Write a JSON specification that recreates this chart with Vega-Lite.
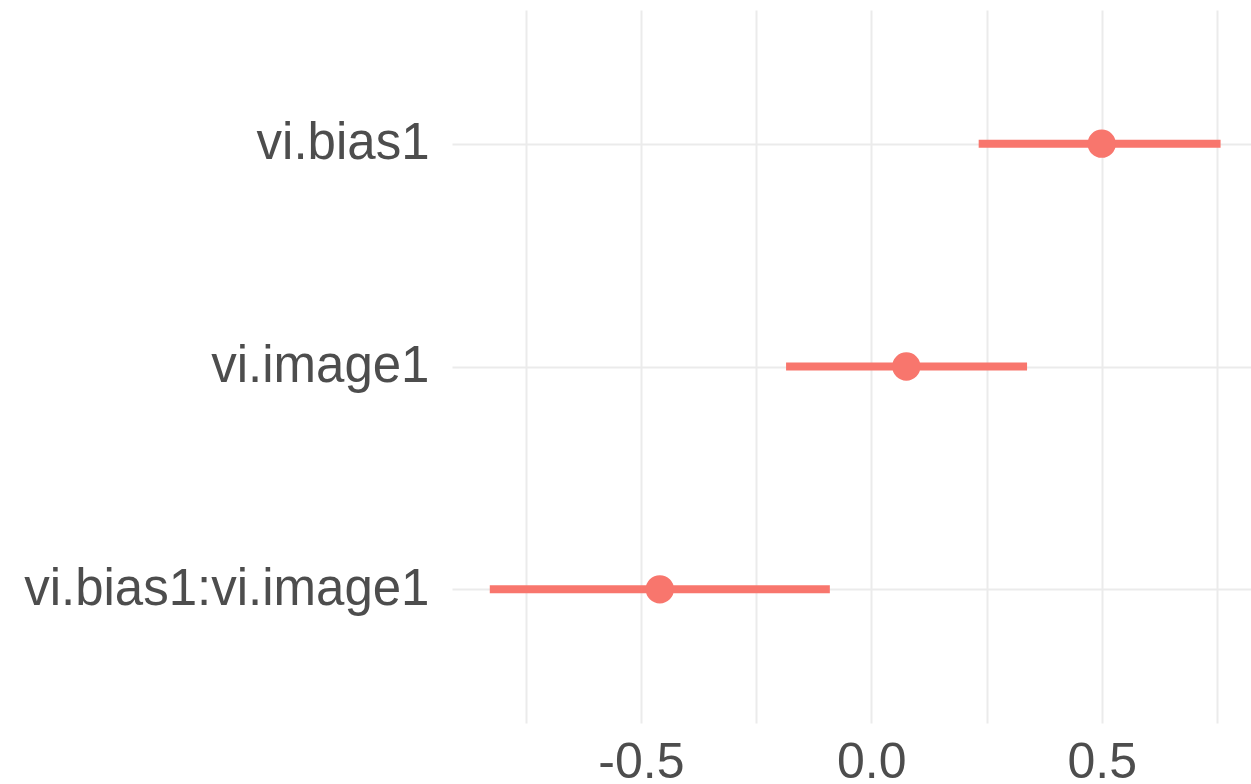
{
  "$schema": "https://vega.github.io/schema/vega-lite/v6.json",
  "width": 799,
  "height": 713,
  "autosize": {"type": "none"},
  "padding": {"left": 452, "top": 10, "right": 0, "bottom": 61},
  "background": "white",
  "config": {"view": {"stroke": null}, "font": "Liberation Sans"},
  "data": {
    "values": [
      {"term": "vi.bias1", "estimate": 0.5, "lo": 0.233, "hi": 0.758},
      {"term": "vi.image1", "estimate": 0.076, "lo": -0.185, "hi": 0.338},
      {"term": "vi.bias1:vi.image1", "estimate": -0.459, "lo": -0.828, "hi": -0.09}
    ]
  },
  "encoding": {
    "y": {
      "field": "term",
      "type": "nominal",
      "sort": ["vi.bias1", "vi.image1", "vi.bias1:vi.image1"],
      "scale": {"type": "point", "padding": 0.6},
      "axis": {
        "title": null,
        "domain": false,
        "ticks": false,
        "grid": true,
        "gridColor": "#EBEBEB",
        "gridWidth": 2,
        "labelFontSize": 51,
        "labelColor": "#4D4D4D",
        "labelPadding": 23,
        "labelLimit": 0,
        "labelFont": "Liberation Sans"
      }
    }
  },
  "layer": [
    {
      "mark": {"type": "rule", "strokeWidth": 8, "color": "#F8766D"},
      "encoding": {
        "x": {
          "field": "lo",
          "type": "quantitative",
          "scale": {"domain": [-0.91, 0.824], "nice": false, "zero": false},
          "axis": {
            "title": null,
            "domain": false,
            "ticks": false,
            "grid": true,
            "gridColor": "#EBEBEB",
            "gridWidth": 2,
            "values": [-0.75, -0.5, -0.25, 0, 0.25, 0.5, 0.75],
            "labelExpr": "abs(datum.value) == 0.25 || abs(datum.value) == 0.75 ? '' : (datum.value < 0 ? '-' : '') + format(abs(datum.value), '.1f')",
            "labelFontSize": 50,
            "labelColor": "#4D4D4D",
            "labelPadding": 14,
            "labelFont": "Liberation Sans",
            "labelOverlap": false
          }
        },
        "x2": {"field": "hi"}
      }
    },
    {
      "mark": {"type": "circle", "size": 800, "opacity": 1, "color": "#F8766D"},
      "encoding": {
        "x": {"field": "estimate", "type": "quantitative"}
      }
    }
  ]
}
